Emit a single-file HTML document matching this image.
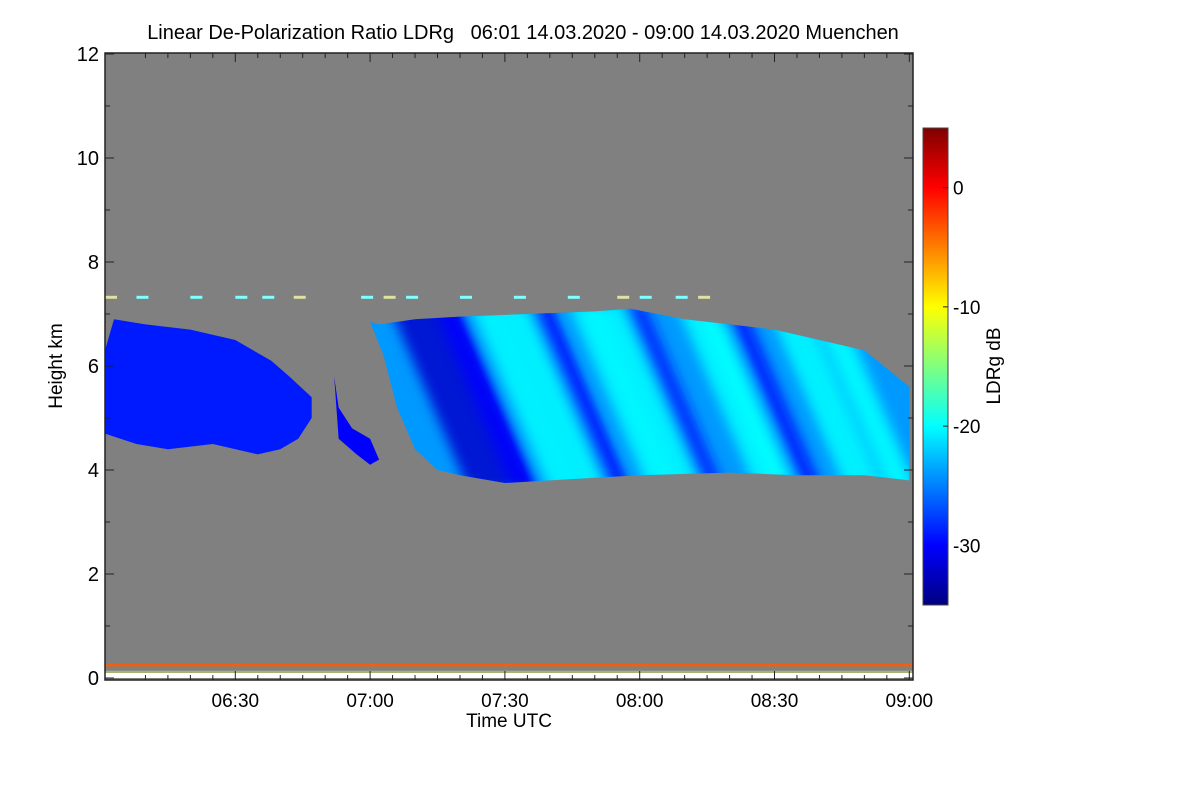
<!DOCTYPE html>
<html><head><meta charset="utf-8"><style>
html,body{margin:0;padding:0;background:#fff;}
svg{display:block;font-family:"Liberation Sans",sans-serif;}
</style></head><body>
<svg id="chart" width="1200" height="800" viewBox="0 0 1200 800">
<defs>
<linearGradient id="jet" x1="0" y1="1" x2="0" y2="0">
<stop offset="0" stop-color="#000080"/><stop offset="0.125" stop-color="#0000ff"/>
<stop offset="0.375" stop-color="#00ffff"/><stop offset="0.625" stop-color="#ffff00"/>
<stop offset="0.875" stop-color="#ff0000"/><stop offset="1" stop-color="#800000"/>
</linearGradient>
<filter id="blur"><feGaussianBlur stdDeviation="6"/></filter>
</defs>
<text x="523" y="39" font-size="20" text-anchor="middle" xml:space="preserve" style="white-space:pre">Linear De-Polarization Ratio LDRg   06:01 14.03.2020 - 09:00 14.03.2020 Muenchen</text>
<rect x="105" y="53" width="808" height="627" fill="#808080"/>
<g id="data"></g>
<g id="axes"></g>
<text x="509" y="727" font-size="19" text-anchor="middle">Time UTC</text>
<text transform="translate(62,366) rotate(-90)" font-size="19" text-anchor="middle">Height km</text>
<rect x="923" y="128" width="25" height="477" fill="url(#jet)" stroke="#444" stroke-width="1"/>
<g id="cbticks"></g>
<text transform="translate(1000,366) rotate(-90)" font-size="19" text-anchor="middle">LDRg dB</text>
</svg>
<script>
// time in minutes after 06:00, height in km, LDR in dB
const xTickLabels = ["06:30","07:00","07:30","08:00","08:30","09:00"];
const xTickMinutes = [30,60,90,120,150,180];
const yTicks = [0,2,4,6,8,10,12];
const cbTicks = [0,-10,-20,-30];
const cloud1Time = [1,3,10,20,30,38,42,47,47,44,40,35,25,15,8,1];
const cloud1Height = [6.3,6.9,6.8,6.7,6.5,6.1,5.8,5.4,5.0,4.6,4.4,4.3,4.5,4.4,4.5,4.7];
const cloud1Ldr = -29;
const cloud2Time = [52,53,56,60,62,60,57,53];
const cloud2Height = [5.8,5.2,4.8,4.6,4.2,4.1,4.3,4.6];
const cloud3Time = [60,62,70,80,95,110,118,130,140,150,160,170,180,180,170,155,140,120,100,90,80,75,70,66,63];
const cloud3Height = [6.85,6.8,6.9,6.95,7.0,7.05,7.1,6.9,6.8,6.7,6.5,6.3,5.6,3.8,3.9,3.9,3.95,3.9,3.8,3.75,3.9,4.0,4.4,5.2,6.2];
const cloud3Ldr = -24;
const streakTime = [82,92,100,112,126,134,146,156,166,174,108,122,150,176];
const streakLdr = [-32,-30,-20,-30,-20,-29,-20,-29,-20,-22,-20,-20,-20,-20];
const streakWidth = [16,6,8,6,10,5,8,5,8,6,5,6,5,6];

const X0=105, PX=134.8/30, Y0=678, PY=52;
const xs = m => X0 + (m-1)*PX;
const ys = h => Y0 - h*PY;
const cb = v => 605 - (v+35)*(477/40);
function jet(v){
  const f=(v+35)/40;
  const c=t=>Math.max(0,Math.min(1,1.5-Math.abs(t)));
  const r=c(4*f-3), g=c(4*f-2), b=c(4*f-1);
  return `rgb(${Math.round(r*255)},${Math.round(g*255)},${Math.round(b*255)})`;
}
const NS='http://www.w3.org/2000/svg';
const data=document.getElementById('data'), axes=document.getElementById('axes'), cbg=document.getElementById('cbticks');
function mk(tag,attrs,parent){const e=document.createElementNS(NS,tag);for(const k in attrs)e.setAttribute(k,attrs[k]);parent.appendChild(e);return e;}
function pts(T,H){return T.map((t,i)=>xs(t)+','+ys(H[i])).join(' ');}

const defs=document.querySelector('defs');
const cp=mk('clipPath',{id:'c3'},defs);
mk('polygon',{points:pts(cloud3Time,cloud3Height)},cp);

let e;
e=mk('polygon',{points:pts(cloud1Time,cloud1Height),fill:jet(cloud1Ldr)},data);


e=mk('polygon',{points:pts(cloud2Time,cloud2Height),fill:jet(cloud1Ldr-1)},data);


e=mk('polygon',{points:pts(cloud3Time,cloud3Height),fill:jet(cloud3Ldr)},data);


const sg=mk('g',{'clip-path':'url(#c3)'},data);
const sgi=mk('g',{filter:'url(#blur)'},sg);
streakTime.forEach((t,i)=>{
  const w=streakWidth[i], sl=18;
  const p=[[t,3.6],[t+w,3.6],[t+w-sl,7.2],[t-sl,7.2]].map(q=>xs(q[0])+','+ys(q[1])).join(' ');
  const s=mk('polygon',{points:p,fill:jet(streakLdr[i]),opacity:0.85},sgi);
  
  
});
e=mk('rect',{x:105,y:ys(0.28),width:808,height:3,fill:'#f06010'},data);


e=mk('rect',{x:105,y:ys(0.14),width:808,height:4,fill:'#c8d070',opacity:0.6},data);


e=mk('rect',{x:105,y:673,width:808,height:5,fill:'#fff'},data);
const topLineTime=[1,8,20,30,36,43,58,63,68,80,92,104,115,120,128,133];
topLineTime.forEach(t=>{const r=mk('rect',{x:xs(t),y:ys(7.35),width:12,height:3,fill:t%2?'#e0e0a0':'#80ffff'},data);
});

mk('rect',{x:105,y:53,width:808,height:627,fill:'none',stroke:'#222','stroke-width':1.5},axes);
yTicks.forEach(v=>{
  const y=ys(v);
  mk('line',{x1:105,x2:114,y1:y,y2:y,stroke:'#222'},axes);
  mk('line',{x1:904,x2:913,y1:y,y2:y,stroke:'#222'},axes);
  if(v<12){mk('line',{x1:105,x2:110,y1:ys(v+1),y2:ys(v+1),stroke:'#222'},axes);mk('line',{x1:908,x2:913,y1:ys(v+1),y2:ys(v+1),stroke:'#222'},axes);}
  const t=mk('text',{x:99,y:y+7,'font-size':20,'text-anchor':'end'},axes);t.textContent=v;
  
});
for(let m=10;m<=180;m+=5){
  const x=xs(m), L=(m%30===0)?9:5;
  mk('line',{x1:x,x2:x,y1:680,y2:680-L,stroke:'#222'},axes);
  mk('line',{x1:x,x2:x,y1:53,y2:53+L,stroke:'#222'},axes);
}
xTickMinutes.forEach((m,i)=>{
  const t=mk('text',{x:xs(m),y:707,'font-size':19,'text-anchor':'middle'},axes);t.textContent=xTickLabels[i];
  
});
cbTicks.forEach(v=>{
  const y=cb(v);
  mk('line',{x1:943,x2:948,y1:y,y2:y,stroke:'#222'},cbg);
  const t=mk('text',{x:953,y:y+7,'font-size':19},cbg);t.textContent=v;
  
});
</script>
</body></html>
